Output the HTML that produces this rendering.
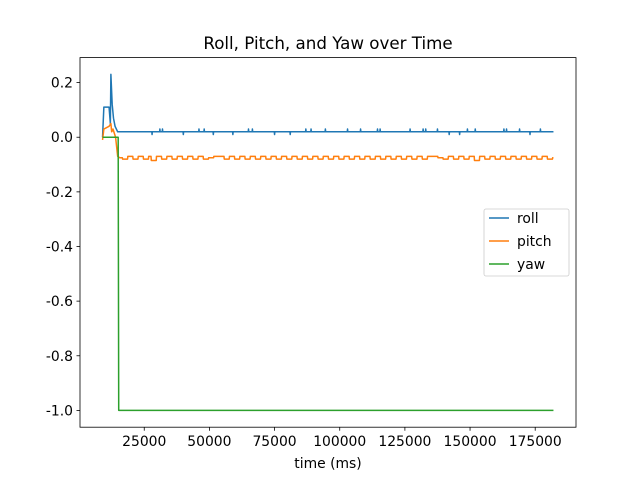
<!DOCTYPE html>
<html><head><meta charset="utf-8"><style>
body{margin:0;background:#fff;}
svg{font-family:"DejaVu Sans","Liberation Sans",sans-serif;}
</style></head><body>
<svg id="chart" width="640" height="480">
<rect width="640" height="480" fill="#fff"/>
<text x="328" y="49" font-size="16.7" text-anchor="middle">Roll, Pitch, and Yaw over Time</text>
<g id="series"></g>
<rect x="80" y="57.6" width="496" height="369.6" fill="none" stroke="#000" stroke-width="0.8"/>
<g id="ticks"></g>
<text x="328" y="468" font-size="13.9" text-anchor="middle">time (ms)</text>
<g>
<rect x="484" y="209" width="85" height="67" rx="2" fill="#fff" fill-opacity="0.8" stroke="#ccc" stroke-width="0.8"/>
<line x1="489" y1="218" x2="509" y2="218" stroke="#1f77b4" stroke-width="1.5"/>
<text x="517" y="223" font-size="13.9">roll</text>
<line x1="489" y1="241" x2="509" y2="241" stroke="#ff7f0e" stroke-width="1.5"/>
<text x="517" y="246" font-size="13.9">pitch</text>
<line x1="489" y1="264" x2="509" y2="264" stroke="#2ca02c" stroke-width="1.5"/>
<text x="517" y="269" font-size="13.9">yaw</text>
</g>
</svg>
<script>
const xTicks=[25000,50000,75000,100000,125000,150000,175000];
const yTicks=[0.2,0.0,-0.2,-0.4,-0.6,-0.8,-1.0];
const rollStartT=[9000,9500,11500,12000,12200,12700,13200,13800,14800];
const rollStartV=[0.0,0.11,0.11,0.05,0.23,0.12,0.07,0.04,0.02];
const rollBase=0.02;
const rollUpT=[31000,32000,46000,48000,65000,66500,87000,89000,94500,103000,108000,114500,115500,127000,132000,133000,137500,149000,152000,163000,164000,169000,177000];
const rollDownT=[28000,40000,51500,59000,75000,81000,142000,146000,173000];
const rollEndT=182000;
const pitchStartT=[9000,9500,11500,12200,12500,13000,14000,14800,15600];
const pitchStartV=[-0.01,0.03,0.04,0.05,0.02,0.03,0.0,-0.07,-0.075];
const pitchT=[17000,19000,21000,23000,25000,27000,28000,30000,32000,34000,36000,38000,40000,42000,44000,46000,48000,50000,52000,54000,56000,58000,60000,62000,64000,66000,68000,70000,72000,74000,76000,78000,80000,82000,84000,86000,88000,90000,92000,94000,96000,98000,100000,102000,104000,106000,108000,110000,112000,114000,116000,118000,120000,122000,124000,126000,128000,130000,132000,134000,136000,138000,140000,142000,144000,146000,148000,150000,152000,154000,156000,158000,160000,162000,164000,166000,168000,170000,172000,174000,176000,178000,180000,182000];
const pitchV=[-0.08,-0.07,-0.08,-0.07,-0.08,-0.07,-0.085,-0.07,-0.08,-0.07,-0.08,-0.07,-0.08,-0.07,-0.08,-0.07,-0.08,-0.075,-0.07,-0.07,-0.08,-0.07,-0.08,-0.07,-0.08,-0.07,-0.08,-0.07,-0.08,-0.07,-0.08,-0.07,-0.08,-0.07,-0.08,-0.07,-0.08,-0.07,-0.08,-0.07,-0.08,-0.07,-0.08,-0.07,-0.08,-0.07,-0.08,-0.07,-0.08,-0.07,-0.08,-0.07,-0.08,-0.07,-0.08,-0.07,-0.08,-0.07,-0.08,-0.07,-0.07,-0.075,-0.08,-0.07,-0.08,-0.07,-0.08,-0.07,-0.085,-0.07,-0.08,-0.07,-0.08,-0.07,-0.08,-0.07,-0.08,-0.07,-0.08,-0.07,-0.08,-0.07,-0.08,-0.075];
const yawT=[9000,15000,15200,182000];
const yawV=[0,0,-1.0,-1.0];

const X0=80,X1=576,Y0=57.6,Y1=427.2;
const xmin=350,xmax=190650,ymin=-1.0615,ymax=0.2915;
const xs=t=>X0+(t-xmin)/(xmax-xmin)*(X1-X0);
const ys=v=>Y0+(ymax-v)/(ymax-ymin)*(Y1-Y0);
const NS="http://www.w3.org/2000/svg";
const ticks=document.getElementById('ticks');
const series=document.getElementById('series');
function mk(tag,attrs,parent){const e=document.createElementNS(NS,tag);for(const k in attrs)e.setAttribute(k,attrs[k]);parent.appendChild(e);return e;}
xTicks.forEach(t=>{const x=xs(t);
 const l=mk('line',{x1:x,x2:x,y1:Y1,y2:Y1+3.5,stroke:'#000','stroke-width':0.8},ticks);
 
 
 const tx=mk('text',{x:x,y:Y1+19,'font-size':13.9,'text-anchor':'middle'},ticks);tx.textContent=String(t);
 
 
});
yTicks.forEach(v=>{const y=ys(v);
 const l=mk('line',{x1:X0-3.5,x2:X0,y1:y,y2:y,stroke:'#000','stroke-width':0.8},ticks);
 
 
 const tx=mk('text',{x:X0-7,y:y+5,'font-size':13.9,'text-anchor':'end'},ticks);tx.textContent=v.toFixed(1);
 
 
});
let roll=rollStartT.map((t,i)=>[t,rollStartV[i]]);
const ev=[];rollUpT.forEach(t=>ev.push([t,rollBase+0.01]));rollDownT.forEach(t=>ev.push([t,rollBase-0.01]));
ev.sort((a,b)=>a[0]-b[0]);
ev.forEach(([t,v])=>{roll.push([t-100,rollBase]);roll.push([t,v]);roll.push([t+100,rollBase]);});
roll.push([rollEndT,rollBase]);
let pitch=pitchStartT.map((t,i)=>[t,pitchStartV[i]]);
pitchT.forEach((t,i)=>{const prev=pitch[pitch.length-1];pitch.push([t-400,prev[1]]);pitch.push([t-300,pitchV[i]]);pitch.push([t,pitchV[i]]);});
const yaw=yawT.map((t,i)=>[t,yawV[i]]);
function draw(pts,color,name){const p=mk('polyline',{points:pts.map(([t,v])=>xs(t).toFixed(2)+','+ys(v).toFixed(2)).join(' '),fill:'none',stroke:color,'stroke-width':1.5,'stroke-linejoin':'round'},series);
 
 }
draw(roll,'#1f77b4','roll-line');
draw(pitch,'#ff7f0e','pitch-line');
draw(yaw,'#2ca02c','yaw-line');
</script>
</body></html>
